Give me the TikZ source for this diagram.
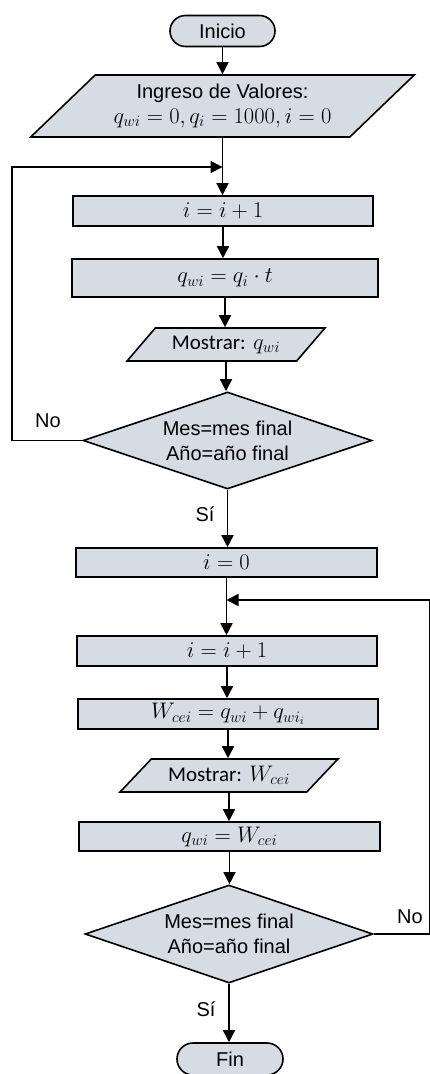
\RequirePackage{fix-cm}
\documentclass[tikz,border=0pt]{standalone}
\usepackage{fontspec}
\setmainfont{Liberation Sans}
\newfontfamily\calib{Carlito}
\usetikzlibrary{shapes.geometric,arrows.meta}
\definecolor{boxfill}{HTML}{D6DCE4}
\newcommand{\mth}[1]{{\fontsize{22.5}{26}\selectfont$#1$}}
\begin{document}
\begin{tikzpicture}[x=1pt,y=-1pt,
  base/.style={draw=black, line width=1.6pt, fill=boxfill, inner sep=0pt, font=\fontsize{20}{25}\selectfont, align=center},
  procbox/.style={base, rectangle, minimum height=30},
  term/.style={base, rectangle, rounded corners=15.5, minimum width=105, minimum height=31},
  io/.style={base, trapezium, trapezium stretches=true, minimum height=33},
  decis/.style={base, diamond, aspect=3},
  lbl/.style={inner sep=0pt, font=\fontsize{20}{24}\selectfont},
  arr/.style={line width=1.6pt, -{Triangle[length=12pt,width=12pt]}}]
\useasboundingbox (0,0) rectangle (430,1074);

\node[term] (inicio) at (222.5,31) {Inicio};
\node[io, trapezium left angle=38.5, trapezium right angle=141.5, minimum width=385, minimum height=62] (ingreso) at (222.5,106) {Ingreso de Valores:\\ \mth{q_{wi}=0, q_i=1000, i=0}};
\node[procbox, minimum width=300] (b1) at (223,211) {\mth{i=i+1}};
\node[procbox, minimum width=306, minimum height=38] (b2) at (225,278) {\mth{q_{wi}=q_i\cdot t}};
\node[io, trapezium left angle=39.5, trapezium right angle=140.5, minimum width=198] (m1) at (226,344.5) {{\calib\fontsize{21}{25}\selectfont Mostrar:} \mth{q_{wi}}};
\node[decis, minimum width=289, minimum height=97] (d1) at (227.5,440.5) {Mes=mes final\\Año=año final};
\node[procbox, minimum width=301, minimum height=29] (b3) at (226.5,562.5) {\mth{i=0}};
\node[procbox, minimum width=300] (b4) at (227,651) {\mth{i=i+1}};
\node[procbox, minimum width=300] (b5) at (228,714) {\mth{W_{cei}=q_{wi}+q_{wi_i}}};
\node[io, trapezium left angle=37.5, trapezium right angle=142.5, minimum width=218] (m2) at (229,775.5) {{\calib\fontsize{21}{25}\selectfont Mostrar:} \mth{W_{cei}}};
\node[procbox, minimum width=301, minimum height=29] (b6) at (229.5,836.5) {\mth{q_{wi}=W_{cei}}};
\node[decis, minimum width=288, minimum height=98] (d2) at (229,934) {Mes=mes final\\Año=año final};
\node[term, minimum width=106, minimum height=32, rounded corners=16] (fin) at (230,1059) {Fin};

\node[lbl] (no1) at (48,421) {No};
\node[lbl] (si1) at (205,514) {Sí};
\node[lbl] (no2) at (410,917) {No};
\node[lbl] (si2) at (206,1009) {Sí};

\coordinate (j1) at (ingreso.south |- 0,167);
\coordinate (j2) at (b3.south |- 0,600);

\draw[arr] (inicio.south) -- (inicio.south |- ingreso.north);
\draw[arr] (ingreso.south) -- (ingreso.south |- b1.north);
\draw[arr] (b1.south) -- (b1.south |- b2.north);
\draw[arr] (b2.south) -- (b2.south |- m1.north);
\draw[arr] (m1.south) -- (m1.south |- d1.north);
\draw[arr] (d1.south) -- (d1.south |- b3.north);
\draw[arr] (d1.west) -- ++(-70,0) |- (j1);
\draw[arr] (b3.south) -- (b3.south |- b4.north);
\draw[arr] (b4.south) -- (b4.south |- b5.north);
\draw[arr] (b5.south) -- (b5.south |- m2.north);
\draw[arr] (m2.south) -- (m2.south |- b6.north);
\draw[arr] (b6.south) -- (b6.south |- d2.north);
\draw[arr] (d2.south) -- (d2.south |- fin.north);
\draw[arr] (d2.east) -- ++(56,0) |- (j2);
\end{tikzpicture}
\end{document}
